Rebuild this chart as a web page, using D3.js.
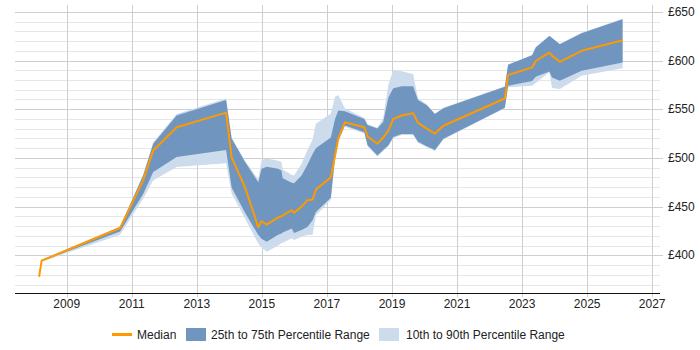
<!DOCTYPE html>
<html><head><meta charset="utf-8">
<script src="https://cdn.jsdelivr.net/npm/d3@7"></script>
<style>
body{margin:0;background:#fff}
text{font-family:"Liberation Sans",Arial,sans-serif;font-size:12px;fill:#222}
</style>
</head><body>
<svg id="c" width="700" height="350"></svg>
<script>
const years=[2008.15,2008.23,2010.64,2011.35,2011.66,2012.38,2013.9,2014.07,2014.48,2014.89,2014.99,2015.15,2015.5,2015.6,2015.64,2015.92,2015.99,2016.22,2016.4,2016.56,2016.66,2017.12,2017.25,2017.35,2017.55,2018.15,2018.25,2018.55,2018.73,2018.89,2019.04,2019.3,2019.65,2019.8,2020.07,2020.32,2020.58,2022.47,2022.57,2023.31,2023.42,2023.84,2023.92,2024.16,2024.83,2026.09];
const median=[378,394.5,428,477,507.7,531.5,546.5,500.5,470,429,435,431.5,438.9,440,441,446.3,443.6,450,456.5,457.2,467.5,480,502.5,520,536.6,531.5,522,514.5,521,528,540,543.5,546,536,530,525,533,561,585,593,599.5,608.2,605,598.7,610,620.9];
const p25=[378,394,424.5,463,485.5,501,508,469.5,444,420.8,417,414,421,422.5,423.5,427.6,423,426,429,436,444.6,459,500.8,518,533.2,526.4,513,502.5,508,513,521.5,524.5,524.5,516.6,512,508,519.6,551.5,574,579,583.3,588.7,582.6,579.2,589.5,598];
const p75=[378,395,429,482,514.5,543.5,559.5,520,496,475,489,491,489,487,479,474.5,474,482,493,504,510,521,540,548.6,548,540,533.7,530.3,537,562,571.4,573.7,573.7,559.4,554,545,551,573,595.6,605.5,613.3,625.3,623,616.8,628,642.3];
const p10=[378,393.5,421,458,477,490.6,494.5,463.5,438,412,408,403.7,410,412.3,413,417.4,415.6,419,420.8,421,441,457,498,516,532,525,512,501.5,507,512,520.5,523.5,523.5,515.6,511,507,519,551,572.5,574,577,588,571.8,570.8,584.3,592];
const p90=[378,395.5,429.5,483,516,545,561,521,497,478,497.8,499.5,497,496,488,482.4,482,494,508,519,535,545.7,562.8,564.5,551,541,534.5,531,541,575,590.2,589,586.1,561,555,545.5,551.5,573.5,596,606,613.8,625.8,623.5,617.3,628.5,642.8];
const xTicks=[2009,2011,2013,2015,2017,2019,2021,2023,2025,2027];
const yTicks=[400,450,500,550,600,650];
const yMinor=d3.range(370,660,10);

const L=15,R=660,T=5,B=293.3;
const svg=d3.select("#c");
const x=d3.scaleLinear().domain([2007.41,2027.24]).range([L,R]);
const y=d3.scaleLinear().domain([361,657]).range([B,T]);

const data=years.map((t,i)=>({t,m:median[i],a:p25[i],b:p75[i],c:p10[i],d:p90[i]}));

// grid
const g=svg.append("g");
g.selectAll(".mn").data(yMinor.filter(v=>v%50!==0)).join("line")
 .attr("x1",L).attr("x2",R).attr("y1",d=>Math.round(y(d))+0.5).attr("y2",d=>Math.round(y(d))+0.5)
 .attr("stroke","#e6e6e6");
g.selectAll(".mj").data(yTicks).join("line")
 .attr("x1",L).attr("x2",R+3).attr("y1",d=>Math.round(y(d))+0.5).attr("y2",d=>Math.round(y(d))+0.5)
 .attr("stroke","#cfcfcf");
g.selectAll(".vx").data(xTicks).join("line")
 .attr("x1",d=>Math.round(x(d))+0.5).attr("x2",d=>Math.round(x(d))+0.5).attr("y1",T).attr("y2",B+4)
 .attr("stroke","#cfcfcf");

// bands
svg.append("path").datum(data)
 .attr("d",d3.area().x(d=>x(d.t)).y0(d=>y(d.c)).y1(d=>y(d.d)))
 .attr("fill","#cddcec");
svg.append("path").datum(data)
 .attr("d",d3.area().x(d=>x(d.t)).y0(d=>y(d.a)).y1(d=>y(d.b)))
 .attr("fill","#7095be");
svg.append("path").datum(data)
 .attr("d",d3.line().x(d=>x(d.t)).y(d=>y(d.m)))
 .attr("fill","none").attr("stroke","#ff9900").attr("stroke-width",2).attr("stroke-linejoin","round");

// axis line
svg.append("line").attr("x1",L).attr("x2",R).attr("y1",Math.round(B)+0.5).attr("y2",Math.round(B)+0.5)
 .attr("stroke","#111");

// labels
svg.selectAll(".xl").data(xTicks).join("text")
 .attr("x",d=>x(d)).attr("y",308).attr("text-anchor","middle").text(d=>d);
svg.selectAll(".yl").data(yTicks).join("text")
 .attr("x",668).attr("y",d=>y(d)+4).text(d=>"£"+d);

// legend
const lg=svg.append("g");
lg.append("line").attr("x1",112).attr("x2",132).attr("y1",334.5).attr("y2",334.5).attr("stroke","#ff9900").attr("stroke-width",3);
lg.append("text").attr("x",137).attr("y",338.5).text("Median");
lg.append("rect").attr("x",186).attr("y",328).attr("width",20).attr("height",13).attr("fill","#7095be");
lg.append("text").attr("x",211).attr("y",338.5).text("25th to 75th Percentile Range");
lg.append("rect").attr("x",379).attr("y",328).attr("width",20).attr("height",13).attr("fill","#cddcec");
lg.append("text").attr("x",406).attr("y",338.5).text("10th to 90th Percentile Range");
</script>
</body></html>
